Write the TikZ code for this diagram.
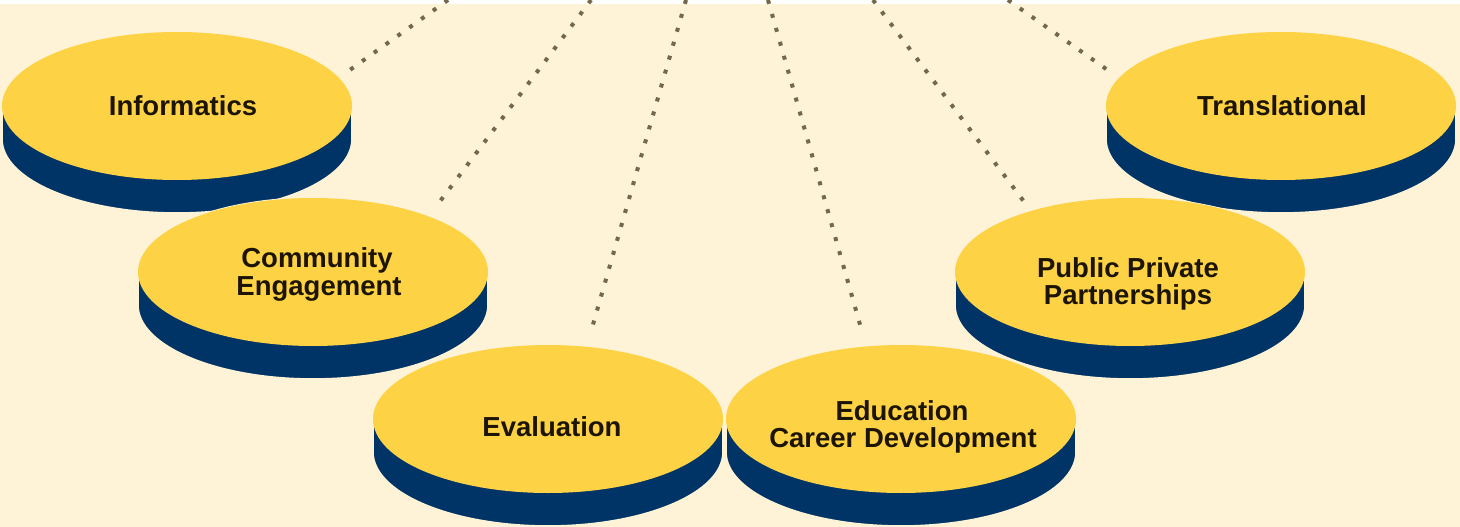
\documentclass[tikz,border=0pt]{standalone}
\usepackage{fontspec}
\setmainfont{Liberation Sans}
\usetikzlibrary{shapes.geometric,calc}
\definecolor{bg}{HTML}{FEF3D6}
\definecolor{diskyellow}{HTML}{FDD244}
\definecolor{diskblue}{HTML}{003366}
\definecolor{dotcol}{HTML}{746849}
\definecolor{txt}{HTML}{1C1404}
\newcommand\mydisk[2]{%
  \filldraw[fill=diskblue, draw=bg, line width=1.6pt]
    ($(#1)+(175,0)$) arc[start angle=0, end angle=180, x radius=175pt, y radius=74pt]
    -- ++(0,33) arc[start angle=180, end angle=360, x radius=175pt, y radius=74pt] -- cycle;
  \node[disktop] (#2) at (#1) {};
}
\begin{document}
\begin{tikzpicture}[x=1pt,y=-1pt,
  dotline/.style={draw=dotcol, line width=4pt, dash pattern=on 4pt off 10.5pt},
  disktop/.style={ellipse, fill=diskyellow, minimum width=350pt, minimum height=148pt, inner sep=0pt},
  lbl/.style={font=\bfseries\fontsize{27.5}{28}\selectfont, text=txt, anchor=base, inner sep=0pt}
]
\fill[bg] (0,0) rectangle (1460,527);
\fill[white] (0,0) rectangle (1460,4);
\useasboundingbox (0,0) rectangle (1460,527);

% disk centres
\coordinate (infc) at (177,106);
\coordinate (trac) at (1281,106);
\coordinate (comc) at (313,272);
\coordinate (pppc) at (1130,272);
\coordinate (evac) at (548,419);
\coordinate (educ) at (901,419);

% top ends of the dotted lines
\coordinate (inf-top) at (448,0);
\coordinate (com-top) at (591,0);
\coordinate (eva-top) at (686,0);
\coordinate (edu-top) at (768,0);
\coordinate (ppp-top) at (873,0);
\coordinate (tra-top) at (1008,0);

% lower ends, near the disks
\path (infc) ++(170,-34) coordinate (inf-end);
\path (trac) ++(-172,-35) coordinate (tra-end);
\path (comc) ++(125,-68) coordinate (com-end);
\path (pppc) ++(-105,-69) coordinate (ppp-end);
\path (evac) ++(44,-91) coordinate (eva-end);
\path (educ) ++(-40,-91) coordinate (edu-end);

\draw[dotline] (inf-top) -- (inf-end);
\draw[dotline] (com-top) -- (com-end);
\draw[dotline] (eva-top) -- (eva-end);
\draw[dotline] (edu-top) -- (edu-end);
\draw[dotline] (ppp-top) -- (ppp-end);
\draw[dotline] (tra-top) -- (tra-end);

\mydisk{infc}{inf}
\mydisk{trac}{tra}
\mydisk{comc}{com}
\mydisk{pppc}{ppp}
\mydisk{evac}{eva}
\mydisk{educ}{edu}

\node[lbl] (inf-t) at (183,115) {Informatics};
\node[lbl] (tra-t) at (1282,115) {Translational};
\node[lbl] (com-t1) at (317,267) {Community};
\node[lbl] (com-t2) at (319,295) {Engagement};
\node[lbl] (ppp-t1) at (1128,277) {Public Private};
\node[lbl] (ppp-t2) at (1128,304) {Partnerships};
\node[lbl] (eva-t) at (552,436) {Evaluation};
\node[lbl] (edu-t1) at (902,420) {Education};
\node[lbl] (edu-t2) at (903,447) {Career Development};
\end{tikzpicture}
\end{document}
